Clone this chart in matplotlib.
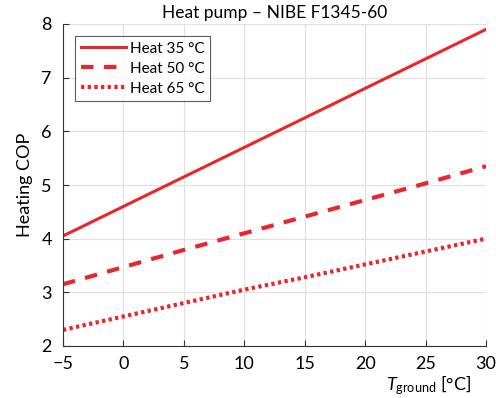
import numpy as np
import matplotlib
matplotlib.use("Agg")
import matplotlib.pyplot as plt

plt.rcParams['font.family'] = ['Lato', 'DejaVu Sans']
plt.rcParams['mathtext.fontset'] = 'custom'
plt.rcParams['mathtext.rm'] = 'Lato'
plt.rcParams['mathtext.it'] = 'Lato:italic'

# ground temperature [°C]
t_ground = [-5, 0, 5, 10, 15, 20, 25, 30]
# heating COP for each supply temperature
cop_35 = [4.05, 4.6, 5.15, 5.7, 6.25, 6.8, 7.35, 7.9]
cop_50 = [3.15, 3.47, 3.79, 4.1, 4.41, 4.72, 5.03, 5.35]
cop_65 = [2.3, 2.55, 2.8, 3.05, 3.28, 3.52, 3.76, 4.0]

couleur = "#e8262b"

fig = plt.figure(figsize=(4.96, 3.98), dpi=100)
ax = fig.add_axes([63/496, 1-346/398, (486-63)/496, (346-24)/398])

ax.plot(t_ground, cop_35, color=couleur, lw=2.2, ls="-", label="Heat 35 °C")
ax.plot(t_ground, cop_50, color=couleur, lw=3, ls=(0, (3, 2.5)), label="Heat 50 °C")
ax.plot(t_ground, cop_65, color=couleur, lw=3, ls=(0, (0.8, 0.8)), label="Heat 65 °C")

ax.set_xlim(-5, 30)
ax.set_ylim(2, 8)
ax.set_xticks(range(-5, 31, 5))
ax.set_xticklabels(["\u22125", "0", "5", "10", "15", "20", "25", "30"])
ax.set_yticks(range(2, 9))
ax.tick_params(direction="in", labelsize=13, length=4, color="#333333")
ax.tick_params(axis="x", pad=7)
ax.tick_params(axis="y", pad=8)
ax.grid(True, color="#e0e0e0", lw=0.8)
ax.set_axisbelow(True)
for s in ["top", "right"]:
    ax.spines[s].set_visible(False)
for s in ["left", "bottom"]:
    ax.spines[s].set_color("#333333")

ax.set_title("Heat pump \u2013 NIBE F1345-60", fontsize=12.5, pad=4)
ax.set_ylabel("Heating COP", fontsize=13, labelpad=6)
ax.set_xlabel(r"$\mathit{T}_{\rm ground}$ [°C]", fontsize=13)
ax.xaxis.set_label_coords(0.865, -0.085)

leg = ax.legend(loc="upper left", fontsize=11, frameon=True, fancybox=False,
                edgecolor="#333333", handlelength=3.0, handletextpad=0.25,
                borderpad=0.35, labelspacing=0.4, borderaxespad=0.8)
leg.get_frame().set_linewidth(0.8)

plt.savefig("out.png", dpi=100)
plt.close()
